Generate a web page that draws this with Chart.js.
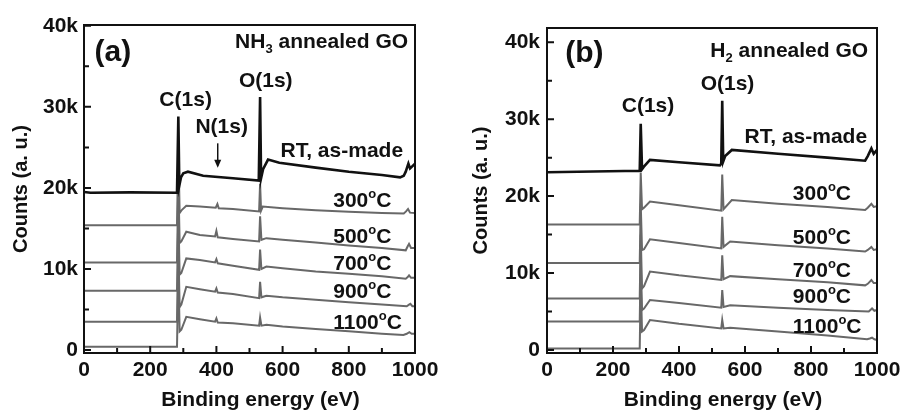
<!DOCTYPE html>
<html>
<head>
<meta charset="utf-8">
<script src="https://cdn.jsdelivr.net/npm/chart.js@4.4.1/dist/chart.umd.min.js"></script>
<style>
    body { margin: 0; background: #fff; }
    .panel { position: absolute; top: 0; height: 411px; }
    #panelA { left: 0; width: 450px; }
    #panelB { left: 450px; width: 451px; }
</style>
</head>
<body>
<div class="panel" id="panelA"><canvas id="chartA"></canvas></div>
<div class="panel" id="panelB"><canvas id="chartB"></canvas></div>
<script>
// axis ticks
const xTicks = [0, 200, 400, 600, 800, 1000];
const xMinor = [100, 300, 500, 700, 900];
const yTicks = [0, 10000, 20000, 30000, 40000];
const yMinor = [5000, 15000, 25000, 35000];

// (a) NH3 annealed GO, [binding energy eV, counts]
const rtA = [[0, 19500], [20, 19400], [140, 19450], [281, 19400], [285, 28800], [288, 20300], [293, 21300],
    [300, 21800], [314, 22000], [360, 21500], [450, 21200], [528, 20900], [532, 31200], [535, 21200],
    [541, 22300], [556, 23500], [590, 23100], [700, 22500], [800, 22000], [900, 21600], [955, 21300],
    [966, 21500], [972, 22000], [980, 23000], [985, 22400], [990, 22600], [1000, 23000]];
const c300A = [[0, 15400], [281, 15400], [285, 25000], [289, 16900], [296, 17300], [309, 17800], [350, 17700],
    [398, 17550], [403, 18000], [407, 17500], [450, 17400], [529, 17100], [532, 20500], [535, 17200],
    [540, 17700], [600, 17500], [700, 17250], [800, 17050], [900, 16900], [966, 16850], [973, 17100],
    [979, 17400], [985, 16950], [1000, 16900]];
const c500A = [[0, 10800], [281, 10800], [285, 21000], [289, 13200], [294, 13400], [309, 14600], [350, 14200],
    [396, 14000], [400, 14700], [404, 13900], [450, 13700], [529, 13400], [532, 16500], [536, 13600],
    [551, 13800], [600, 13600], [700, 13250], [800, 12900], [900, 12600], [972, 12300], [978, 12800],
    [982, 13100], [988, 12600], [1000, 12600]];
const c700A = [[0, 7300], [281, 7300], [285, 17000], [289, 9300], [294, 9500], [309, 11300], [350, 11100],
    [396, 10800], [400, 11200], [404, 10700], [450, 10400], [529, 9900], [532, 12400], [536, 10000],
    [551, 10300], [600, 10100], [700, 9700], [800, 9400], [900, 9100], [972, 8800], [978, 9000],
    [982, 9200], [988, 8900], [1000, 8900]];
const c900A = [[0, 3500], [281, 3500], [285, 13000], [289, 5300], [294, 5600], [309, 7800], [350, 7500],
    [396, 7200], [400, 7600], [404, 7100], [450, 6900], [529, 6400], [532, 8400], [536, 6500],
    [551, 6700], [600, 6500], [700, 6200], [800, 5900], [900, 5600], [975, 5400], [982, 5600],
    [986, 5700], [992, 5400], [1000, 5400]];
const c1100A = [[0, 400], [281, 400], [285, 10000], [289, 2300], [294, 2500], [309, 4100], [350, 3800],
    [396, 3500], [400, 3900], [404, 3400], [450, 3300], [529, 3000], [532, 4000], [536, 3000],
    [551, 3100], [600, 2900], [700, 2600], [800, 2300], [900, 2000], [965, 1850], [975, 2000],
    [983, 2200], [990, 2000], [1000, 2000]];

// (b) H2 annealed GO
const rtB = [[0, 23100], [140, 23200], [281, 23300], [284, 29400], [288, 23500], [293, 23800], [312, 24700],
    [400, 24400], [524, 24000], [528, 24200], [531, 32400], [534, 24500], [540, 25200], [560, 26000],
    [700, 25500], [850, 25000], [964, 24600], [972, 25200], [983, 26200], [990, 25500], [1000, 26000]];
const c300B = [[0, 16300], [281, 16300], [284, 23000], [288, 18300], [294, 18500], [312, 19300], [400, 18800],
    [528, 18100], [531, 22800], [535, 18300], [560, 19500], [700, 19000], [850, 18600], [964, 18200],
    [972, 18500], [983, 19000], [990, 18600], [1000, 18700]];
const c500B = [[0, 11300], [281, 11300], [284, 19000], [288, 13000], [294, 13100], [312, 14400], [400, 13900],
    [528, 13200], [531, 17300], [535, 13400], [555, 14100], [700, 13600], [850, 13200], [964, 12800],
    [972, 13000], [983, 13400], [990, 13000], [1000, 13100]];
const c700B = [[0, 6700], [281, 6700], [284, 15000], [288, 8000], [294, 8300], [312, 10200], [400, 9700],
    [528, 9100], [531, 12300], [535, 9200], [555, 9600], [700, 9200], [850, 8800], [964, 8400],
    [972, 8600], [983, 9100], [990, 8700], [1000, 8700]];
const c900B = [[0, 3700], [281, 3700], [284, 12000], [288, 5200], [294, 5400], [312, 6500], [400, 6100],
    [528, 5500], [531, 7800], [535, 5600], [555, 5800], [700, 5500], [850, 5200], [975, 5000],
    [980, 5200], [985, 5400], [992, 5100], [1000, 5200]];
const c1100B = [[0, 200], [281, 200], [284, 9000], [288, 2400], [294, 2600], [312, 3900], [400, 3400],
    [528, 2800], [531, 3900], [535, 2800], [555, 2900], [700, 2400], [850, 1900], [970, 1400],
    [978, 1500], [985, 1600], [992, 1400], [1000, 1300]];

const FONT = '"Liberation Sans", Arial, Helvetica, sans-serif';
Chart.defaults.font.family = FONT;
Chart.defaults.font.weight = 'bold';
Chart.defaults.font.size = 21;
Chart.defaults.color = '#111';

function kLabel(v) {
    return v === 0 ? '0' : (v / 1000) + 'k';
}

// text with sub/superscript parts: [text, 'sub' | 'sup' | undefined]
function drawRich(ctx, parts, x, y, align, size) {
    const sizes = parts.map(p => p[1] ? Math.round(size * 0.62) : size);
    let w = 0;
    parts.forEach((p, i) => {
        ctx.font = `bold ${sizes[i]}px ${FONT}`;
        w += ctx.measureText(p[0]).width;
    });
    let cx = align === 'right' ? x - w : (align === 'center' ? x - w / 2 : x);
    ctx.textAlign = 'left';
    ctx.textBaseline = 'alphabetic';
    parts.forEach((p, i) => {
        ctx.font = `bold ${sizes[i]}px ${FONT}`;
        let dy = 0;
        if (p[1] === 'sup') dy = -size * 0.42;
        if (p[1] === 'sub') dy = size * 0.24;
        ctx.fillText(p[0], cx, y + dy);
        cx += ctx.measureText(p[0]).width;
    });
}

// box, inward tick marks, x title and the labels inside the plot
const framePlugin = {
    id: 'frame',
    afterDatasetsDraw(chart, args, opts) {
        const { ctx, chartArea: a, scales: { x, y } } = chart;
        ctx.save();
        ctx.strokeStyle = '#111';
        ctx.lineWidth = 2;
        ctx.strokeRect(a.left, a.top, a.right - a.left, a.bottom - a.top);

        ctx.beginPath();
        xTicks.concat(xMinor).forEach(v => {
            const px = x.getPixelForValue(v);
            const len = xMinor.includes(v) ? 5 : 7;
            ctx.moveTo(px, a.bottom);
            ctx.lineTo(px, a.bottom - len);
        });
        yTicks.concat(yMinor).forEach(v => {
            const py = y.getPixelForValue(v);
            const len = yMinor.includes(v) ? 5 : 7;
            ctx.moveTo(a.left, py);
            ctx.lineTo(a.left + len, py);
        });
        ctx.stroke();

        ctx.fillStyle = '#111';
        // axis title sits centred under the tick labels, a bit right of the plot centre
        drawRich(ctx, [['Binding energy (eV)']], (a.left + a.right) / 2 + 11, chart.height - 5, 'center', 21);

        opts.notes.forEach(n => {
            drawRich(ctx, n.parts, x.getPixelForValue(n.x), y.getPixelForValue(n.y), n.align, n.size || 21);
        });

        if (opts.arrow) {
            const ax = x.getPixelForValue(opts.arrow.x);
            const y0 = y.getPixelForValue(opts.arrow.from);
            const y1 = y.getPixelForValue(opts.arrow.to);
            ctx.lineWidth = 1.5;
            ctx.beginPath();
            ctx.moveTo(ax, y0);
            ctx.lineTo(ax, y1 - 2);
            ctx.stroke();
            ctx.beginPath();
            ctx.moveTo(ax - 3.5, y1 - 8);
            ctx.lineTo(ax + 3.5, y1 - 8);
            ctx.lineTo(ax, y1);
            ctx.closePath();
            ctx.fill();
        }
        ctx.restore();
    }
};

function makePanel(id, series, cfg) {
    const colors = ['#111', '#686868', '#686868', '#686868', '#686868', '#686868'];
    const widths = [2.6, 2, 2, 2, 2, 2];
    return new Chart(document.getElementById(id), {
        type: 'line',
        data: {
            datasets: series.map((s, i) => ({
                data: s,
                borderColor: colors[i],
                borderWidth: widths[i],
                pointRadius: 0,
                tension: 0,
                fill: false
            }))
        },
        options: {
            responsive: true,
            maintainAspectRatio: false,
            animation: false,
            events: [],
            layout: { padding: { top: cfg.top, right: cfg.right, bottom: 0, left: 0 } },
            plugins: {
                legend: { display: false },
                tooltip: { enabled: false },
                frame: { notes: cfg.notes, arrow: cfg.arrow }
            },
            scales: {
                x: {
                    type: 'linear',
                    min: 0,
                    max: 1000,
                    grid: { display: false, drawTicks: false },
                    border: { display: false },
                    ticks: { padding: 5, includeBounds: false, callback: v => String(v) },
                    afterBuildTicks: s => { s.ticks = xTicks.map(v => ({ value: v })); },
                    afterFit: s => {
                        s.height = 58;
                        // end labels may hang past the plot edge, as in the figure
                        s.paddingLeft = 0;
                        s.paddingRight = 0;
                    }
                },
                y: {
                    type: 'linear',
                    min: cfg.yMin,
                    max: cfg.yMax,
                    grid: { display: false, drawTicks: false },
                    border: { display: false },
                    ticks: { padding: cfg.yPad, includeBounds: false, callback: kLabel },
                    afterBuildTicks: s => { s.ticks = yTicks.map(v => ({ value: v })); },
                    afterFit: s => { s.width = cfg.yWidth; },
                    title: {
                        display: true,
                        text: 'Counts (a. u.)',
                        font: { size: 20, weight: 'bold', lineHeight: 1 },
                        padding: { top: cfg.titlePad, bottom: 0 }
                    }
                }
            }
        },
        plugins: [framePlugin]
    });
}

makePanel('chartA', [rtA, c300A, c500A, c700A, c900A, c1100A], {
    top: 25, right: 35, yWidth: 84, yPad: 6, titlePad: 11, yMin: -370, yMax: 40100,
    notes: [
        { x: 32, y: 35600, parts: [['(a)']], align: 'left', size: 30 },
        { x: 979, y: 37300, parts: [['NH'], ['3', 'sub'], [' annealed GO']], align: 'right' },
        { x: 549, y: 32500, parts: [['O(1s)']], align: 'center' },
        { x: 307, y: 30100, parts: [['C(1s)']], align: 'center' },
        { x: 416, y: 26800, parts: [['N(1s)']], align: 'center' },
        { x: 964, y: 23800, parts: [['RT, as-made']], align: 'right' },
        { x: 753, y: 17700, parts: [['300'], ['o', 'sup'], ['C']], align: 'left' },
        { x: 753, y: 13200, parts: [['500'], ['o', 'sup'], ['C']], align: 'left' },
        { x: 753, y: 9900, parts: [['700'], ['o', 'sup'], ['C']], align: 'left' },
        { x: 753, y: 6400, parts: [['900'], ['o', 'sup'], ['C']], align: 'left' },
        { x: 753, y: 2600, parts: [['1100'], ['o', 'sup'], ['C']], align: 'left' }
    ],
    arrow: { x: 404, from: 25500, to: 22500 }
});

makePanel('chartB', [rtB, c300B, c500B, c700B, c900B, c1100B], {
    top: 28, right: 24, yWidth: 97, yPad: 7, titlePad: 21, yMin: -390, yMax: 41850,
    notes: [
        { x: 55, y: 37400, parts: [['(b)']], align: 'left', size: 30 },
        { x: 973, y: 38100, parts: [['H'], ['2', 'sub'], [' annealed GO']], align: 'right' },
        { x: 547, y: 33800, parts: [['O(1s)']], align: 'center' },
        { x: 306, y: 30900, parts: [['C(1s)']], align: 'center' },
        { x: 970, y: 26900, parts: [['RT, as-made']], align: 'right' },
        { x: 745, y: 19500, parts: [['300'], ['o', 'sup'], ['C']], align: 'left' },
        { x: 745, y: 13800, parts: [['500'], ['o', 'sup'], ['C']], align: 'left' },
        { x: 745, y: 9500, parts: [['700'], ['o', 'sup'], ['C']], align: 'left' },
        { x: 745, y: 6100, parts: [['900'], ['o', 'sup'], ['C']], align: 'left' },
        { x: 745, y: 2200, parts: [['1100'], ['o', 'sup'], ['C']], align: 'left' }
    ]
});
</script>
</body>
</html>
